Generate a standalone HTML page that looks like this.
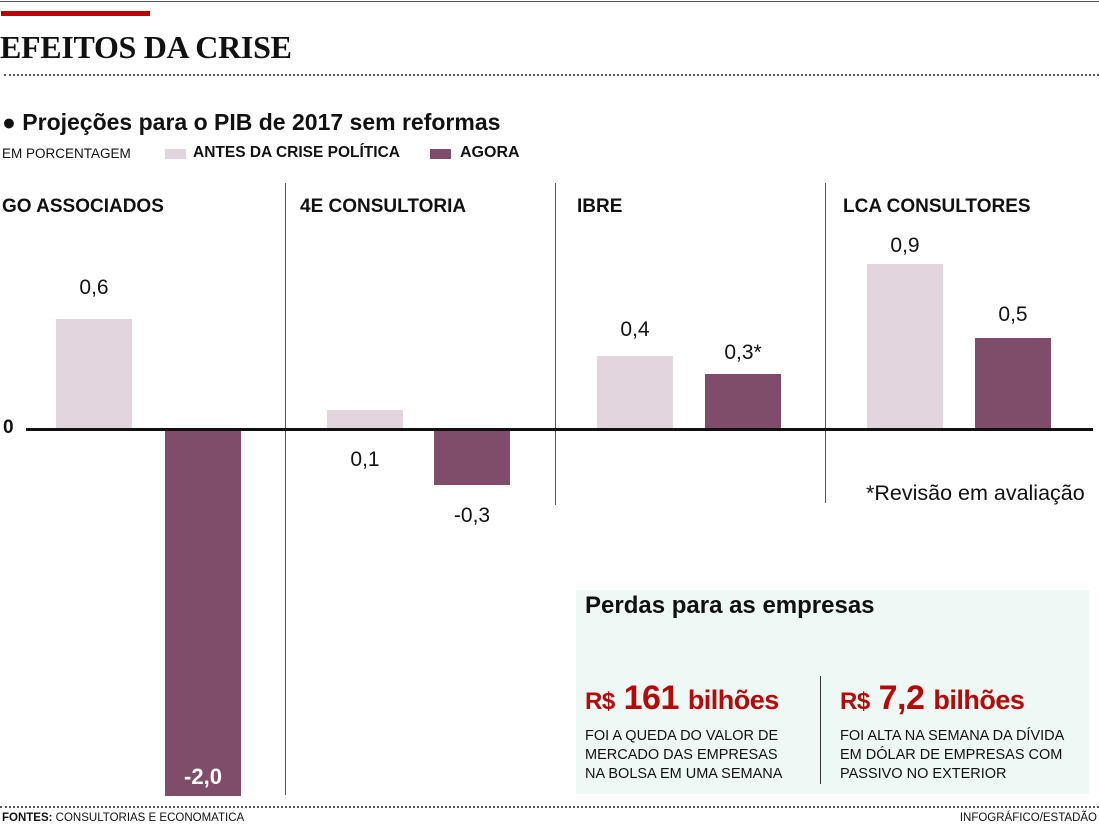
<!DOCTYPE html>
<html><head><meta charset="utf-8"><style>
body{margin:0;width:1099px;height:830px;background:#fff;position:relative;overflow:hidden;font-family:"Liberation Sans",sans-serif;color:#111}
.a{position:absolute;white-space:nowrap}
.l{background:#e3d5dd;position:absolute}
.d{background:#7f4d69;position:absolute}
.v{position:absolute;width:76px;text-align:center;font-size:21px}
.c{position:absolute;font-size:19px;font-weight:bold;top:196px}
.vl{position:absolute;width:1px;background:#555}
.dot{position:absolute;left:0;width:1099px;border-top:2px dotted #555}
</style></head><body>
<div class="a" style="left:0;top:1px;width:1099px;height:1px;background:#555"></div>
<div class="a" style="left:1px;top:11px;width:149px;height:5px;background:#b00"></div>
<div class="a" style="left:0;top:29px;font-family:'Liberation Serif',serif;font-weight:bold;font-size:32px;letter-spacing:-0.3px">EFEITOS DA CRISE</div>
<div class="dot" style="top:74px;left:4px"></div>
<div class="a" style="left:2px;top:109px;font-size:23px;font-weight:bold">● Projeções para o PIB de 2017 sem reformas</div>
<div class="a" style="left:2px;top:146px;font-size:13.5px">EM PORCENTAGEM</div>
<div class="l" style="left:165px;top:149px;width:21px;height:10px"></div>
<div class="a" style="left:193px;top:144px;font-size:15.5px;font-weight:bold">ANTES DA CRISE POLÍTICA</div>
<div class="d" style="left:430px;top:149px;width:21px;height:10px"></div>
<div class="a" style="left:460px;top:144px;font-size:16px;font-weight:bold">AGORA</div>

<div class="vl" style="left:285px;top:183px;height:612px"></div>
<div class="vl" style="left:555px;top:183px;height:322px"></div>
<div class="vl" style="left:825px;top:183px;height:320px"></div>

<div class="c" style="left:2px">GO ASSOCIADOS</div>
<div class="c" style="left:300px">4E CONSULTORIA</div>
<div class="c" style="left:577px">IBRE</div>
<div class="c" style="left:843px">LCA CONSULTORES</div>

<div class="l" style="left:56px;top:319px;width:76px;height:111px"></div>
<div class="v" style="left:56px;top:276px">0,6</div>
<div class="d" style="left:165px;top:430px;width:76px;height:366px"></div>
<div class="v" style="left:165px;top:764px;color:#fff;font-weight:bold;font-size:22px">-2,0</div>

<div class="l" style="left:327px;top:410px;width:76px;height:20px"></div>
<div class="v" style="left:327px;top:448px">0,1</div>
<div class="d" style="left:434px;top:430px;width:76px;height:55px"></div>
<div class="v" style="left:434px;top:504px">-0,3</div>

<div class="l" style="left:597px;top:356px;width:76px;height:74px"></div>
<div class="v" style="left:597px;top:318px">0,4</div>
<div class="d" style="left:705px;top:374px;width:76px;height:56px"></div>
<div class="v" style="left:705px;top:341px">0,3*</div>

<div class="l" style="left:867px;top:264px;width:76px;height:166px"></div>
<div class="v" style="left:867px;top:234px">0,9</div>
<div class="d" style="left:975px;top:338px;width:76px;height:92px"></div>
<div class="v" style="left:975px;top:303px">0,5</div>

<div class="a" style="left:26px;top:428px;width:1067px;height:3px;background:#111"></div>
<div class="a" style="left:3px;top:417px;font-size:19px;font-weight:bold">0</div>
<div class="a" style="left:866px;top:481px;font-size:21.5px">*Revisão em avaliação</div>

<div class="a" style="left:576px;top:590px;width:513px;height:204px;background:#eef8f4"></div>
<div class="a" style="left:585px;top:592px;font-size:24px;font-weight:bold">Perdas para as empresas</div>
<div class="a" style="left:585px;top:679px;font-size:34px;font-weight:bold;color:#b50a0a;letter-spacing:-0.5px"><span style="font-size:24px">R$</span> 161 <span style="font-size:27px">bilhões</span></div>
<div class="a" style="left:585px;top:727px;font-size:14.5px;line-height:19px">FOI A QUEDA DO VALOR DE<br>MERCADO DAS EMPRESAS<br>NA BOLSA EM UMA SEMANA</div>
<div class="vl" style="left:820px;top:676px;height:108px;background:#333"></div>
<div class="a" style="left:840px;top:679px;font-size:34px;font-weight:bold;color:#b50a0a;letter-spacing:-0.5px"><span style="font-size:24px">R$</span> 7,2 <span style="font-size:27px">bilhões</span></div>
<div class="a" style="left:840px;top:727px;font-size:14.5px;line-height:19px">FOI ALTA NA SEMANA DA DÍVIDA<br>EM DÓLAR DE EMPRESAS COM<br>PASSIVO NO EXTERIOR</div>

<div class="dot" style="top:806px"></div>
<div class="a" style="left:2px;top:812px;font-size:11.5px"><b>FONTES:</b> CONSULTORIAS E ECONOMATICA</div>
<div class="a" style="right:2px;top:812px;font-size:11.5px">INFOGRÁFICO/ESTADÃO</div>
</body></html>
